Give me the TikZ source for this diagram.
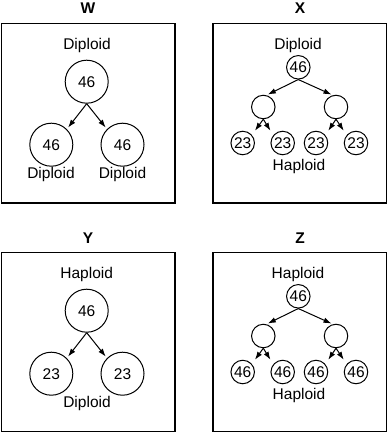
\documentclass[tikz,border=0pt]{standalone}
\usepackage{fontspec}
\setmainfont{Liberation Sans}
\usetikzlibrary{arrows.meta,calc}
\begin{document}
\begin{tikzpicture}[x=1pt,y=-1pt,
  panel/.style={draw,line width=1.3pt},
  bigc/.style={circle,draw,line width=1pt,minimum size=43pt,inner sep=0pt,font=\fontsize{15.5}{18}\selectfont},
  smallc/.style={circle,draw,line width=1pt,minimum size=23.5pt,inner sep=0pt,font=\fontsize{15.5}{18}\selectfont},
  lbl/.style={anchor=base,inner sep=0pt,font=\fontsize{15.5}{18}\selectfont},
  ttl/.style={anchor=base,inner sep=0pt,font=\bfseries\fontsize{15.5}{18}\selectfont},
  arr/.style={-{Latex[length=8pt,width=5.5pt]},line width=1pt}]
\useasboundingbox (0,0) rectangle (388,433);

% ---------- W ----------
\draw[panel] (1.6,23.3) rectangle (175,203);
\node[ttl] (wt) at (88,14) {W};
\node[lbl] (wd) at (87,49.3) {Diploid};
\node[bigc] (w0) at (86.7,81.7) {46};
\node[bigc] (w1) at (51.3,144.7) {46};
\node[bigc] (w2) at (122.5,144.7) {46};
\node[lbl] (wl1) at (51,178.3) {Diploid};
\node[lbl] (wl2) at (122.5,178.3) {Diploid};
\draw[arr,shorten >=2pt] (w0.south) -- (w1.north east);
\draw[arr,shorten >=2pt] (w0.south) -- (w2.north west);

% ---------- Y ----------
\draw[panel] (1.6,252.3) rectangle (175,431.7);
\node[ttl] (yt) at (88,243) {Y};
\node[lbl] (yh) at (86.7,278.3) {Haploid};
\node[bigc] (y0) at (86.7,310.7) {46};
\node[bigc] (y1) at (51.3,373.7) {23};
\node[bigc] (y2) at (122.5,373.7) {23};
\node[lbl] (yd) at (87,407.5) {Diploid};
\draw[arr,shorten >=2pt] (y0.south) -- (y1.north east);
\draw[arr,shorten >=2pt] (y0.south) -- (y2.north west);

% ---------- X ----------
\draw[panel] (213,23.3) rectangle (386.6,203);
\node[ttl] (xt) at (300,14) {X};
\node[lbl] (xd) at (298,49.3) {Diploid};
\node[smallc] (x0) at (298.3,67.3) {46};
\node[smallc] (x1) at (263.3,107) {};
\node[smallc] (x2) at (336,107) {};
\node[smallc] (x11) at (242.7,143) {23};
\node[smallc] (x12) at (282.7,143) {23};
\node[smallc] (x21) at (316,143) {23};
\node[smallc] (x22) at (356,143) {23};
\node[lbl] (xh) at (299,170.7) {Haploid};
\draw[arr,shorten >=1.5pt] (x0.south) -- (x1.75);
\draw[arr,shorten >=1.5pt] (x0.south) -- (x2.105);
\draw[arr] (x1.south) -- (x11.north -| x11.east);
\draw[arr] (x1.south) -- (x12.north -| x12.west);
\draw[arr] (x2.south) -- (x21.north -| x21.east);
\draw[arr] (x2.south) -- (x22.north -| x22.west);

% ---------- Z ----------
\draw[panel] (213,252.3) rectangle (386.6,431.7);
\node[ttl] (zt) at (300,243) {Z};
\node[lbl] (zh) at (298,278.3) {Haploid};
\node[smallc] (z0) at (298.3,296.3) {46};
\node[smallc] (z1) at (263.3,336) {};
\node[smallc] (z2) at (336,336) {};
\node[smallc] (z11) at (242.7,372) {46};
\node[smallc] (z12) at (282.7,372) {46};
\node[smallc] (z21) at (316,372) {46};
\node[smallc] (z22) at (356,372) {46};
\node[lbl] (zh2) at (299,399.7) {Haploid};
\draw[arr,shorten >=1.5pt] (z0.south) -- (z1.75);
\draw[arr,shorten >=1.5pt] (z0.south) -- (z2.105);
\draw[arr] (z1.south) -- (z11.north -| z11.east);
\draw[arr] (z1.south) -- (z12.north -| z12.west);
\draw[arr] (z2.south) -- (z21.north -| z21.east);
\draw[arr] (z2.south) -- (z22.north -| z22.west);
\end{tikzpicture}
\end{document}
